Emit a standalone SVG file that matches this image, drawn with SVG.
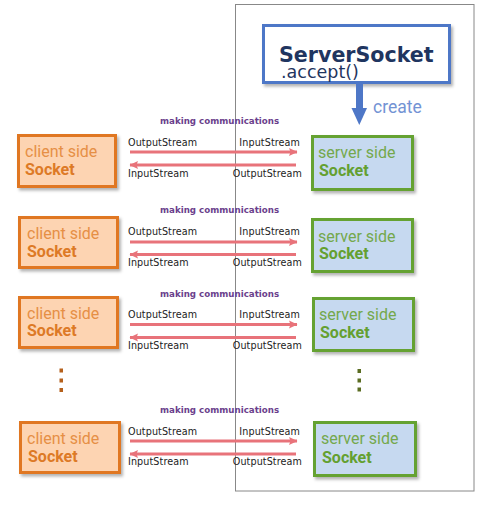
<svg xmlns="http://www.w3.org/2000/svg" width="490" height="512" viewBox="0 0 490 512">
<defs>
<filter id="sh" x="-10%" y="-10%" width="130%" height="130%">
<feDropShadow dx="2" dy="2.5" stdDeviation="1.5" flood-color="#000" flood-opacity="0.3"/>
</filter>
<marker id="ah" markerUnits="userSpaceOnUse" markerWidth="9" markerHeight="9" refX="8" refY="4.5" orient="auto-start-reverse">
<path d="M0,0.5 L8.5,4.5 L0,8.5 L1.5,4.5 z" fill="#e8737a"/>
</marker>
<style>
.client rect{fill:#fdd4b2;stroke:#e07722;stroke-width:3;filter:url(#sh)}
.server rect{fill:#c6d9f0;stroke:#65a232;stroke-width:3;filter:url(#sh)}
.ct1{font-family:Roboto,"Liberation Sans",sans-serif;font-size:16px;fill:#e68f45}
.ct2{font-family:Roboto,"Liberation Sans",sans-serif;font-size:16px;font-weight:bold;fill:#dd7a26}
.st1{font-family:Roboto,"Liberation Sans",sans-serif;font-size:16px;fill:#74a84c}
.st2{font-family:Roboto,"Liberation Sans",sans-serif;font-size:16px;font-weight:bold;fill:#64a030}
.lbl{font-family:"DejaVu Sans",Verdana,sans-serif;font-size:9.6px;fill:#222;letter-spacing:0.1px}
.mc{font-family:"DejaVu Sans",Verdana,sans-serif;font-size:8.7px;font-weight:bold;fill:#6b3f8c}
.conn line{stroke:#e8737a;stroke-width:3}
</style>
</defs>
<rect x="235.5" y="4.5" width="238.5" height="486.5" fill="none" stroke="#888" stroke-width="1"/>

<g id="serversocket">
<rect x="263.5" y="25.5" width="186" height="57" fill="#fff" stroke="#4e77c7" stroke-width="3" filter="url(#sh)"/>
<text x="279" y="62" font-family="'DejaVu Sans',Verdana,sans-serif" font-size="20.6px" font-weight="bold" fill="#1f3560">ServerSocket</text>
<text x="281" y="78" font-family="'DejaVu Sans',Verdana,sans-serif" font-size="17.5px" fill="#1f3560">.accept()</text>
</g>

<g id="create-arrow">
<rect x="356" y="83" width="7" height="26" fill="#4e77c7"/>
<polygon points="351.5,108 367,108 359.3,125" fill="#4e77c7"/>
<text x="373" y="113" font-family="Roboto,'Liberation Sans',sans-serif" font-size="17.5px" fill="#7393d4">create</text>
</g>

<!-- Row 1 -->
<g id="client1" class="client"><rect x="18.5" y="135.5" width="97" height="51"/>
<text class="ct1" x="25" y="157">client side</text><text class="ct2" x="25" y="175">Socket</text></g>
<g id="server1" class="server"><rect x="312.5" y="136.5" width="100" height="53"/>
<text class="st1" x="318" y="158">server side</text><text class="st2" x="319" y="176">Socket</text></g>

<!-- Row 2 -->
<g id="client2" class="client"><rect x="19.5" y="217.5" width="98" height="50"/>
<text class="ct1" x="27" y="239">client side</text><text class="ct2" x="27" y="257">Socket</text></g>
<g id="server2" class="server"><rect x="312.5" y="219.5" width="100" height="52"/>
<text class="st1" x="318" y="242">server side</text><text class="st2" x="319" y="259">Socket</text></g>

<!-- Row 3 -->
<g id="client3" class="client"><rect x="19.5" y="297.5" width="98" height="50"/>
<text class="ct1" x="27" y="319">client side</text><text class="ct2" x="27" y="336">Socket</text></g>
<g id="server3" class="server"><rect x="313.5" y="298.5" width="100" height="52"/>
<text class="st1" x="319" y="320">server side</text><text class="st2" x="320" y="338">Socket</text></g>

<!-- Row 4 -->
<g id="client4" class="client"><rect x="20.5" y="422.5" width="99" height="50"/>
<text class="ct1" x="27" y="444">client side</text><text class="ct2" x="28" y="462">Socket</text></g>
<g id="server4" class="server"><rect x="314.5" y="422.5" width="101" height="53"/>
<text class="st1" x="321" y="444">server side</text><text class="st2" x="322" y="463">Socket</text></g>

<g id="dots">
<rect x="59.5" y="368.5" width="3.5" height="4" fill="#b5611c"/>
<rect x="59.5" y="378.5" width="3.5" height="4" fill="#b5611c"/>
<rect x="59.5" y="388" width="3.5" height="4" fill="#b5611c"/>
<rect x="357.5" y="369" width="3.5" height="4" fill="#5b6d22"/>
<rect x="357.5" y="378.5" width="3.5" height="4" fill="#5b6d22"/>
<rect x="357.5" y="387.5" width="3.5" height="4" fill="#5b6d22"/>
</g>

<g id="connectors" class="conn">
<line x1="130" y1="152" x2="297" y2="152" marker-end="url(#ah)"/>
<line x1="296" y1="165" x2="130" y2="165" marker-end="url(#ah)"/>
<line x1="130" y1="242" x2="297" y2="242" marker-end="url(#ah)"/>
<line x1="296" y1="254.5" x2="130" y2="254.5" marker-end="url(#ah)"/>
<line x1="130" y1="324.5" x2="297" y2="324.5" marker-end="url(#ah)"/>
<line x1="296" y1="337.5" x2="130" y2="337.5" marker-end="url(#ah)"/>
<line x1="130" y1="441" x2="297" y2="441" marker-end="url(#ah)"/>
<line x1="296" y1="454" x2="130" y2="454" marker-end="url(#ah)"/>
</g>

<g id="labels">
<text class="mc" x="160" y="124">making communications</text>
<text class="lbl" x="128" y="146">OutputStream</text>
<text class="lbl" x="300" y="146" text-anchor="end">InputStream</text>
<text class="lbl" x="128" y="177">InputStream</text>
<text class="lbl" x="302" y="177" text-anchor="end">OutputStream</text>

<text class="mc" x="160" y="213">making communications</text>
<text class="lbl" x="128" y="235">OutputStream</text>
<text class="lbl" x="300" y="235" text-anchor="end">InputStream</text>
<text class="lbl" x="128" y="266">InputStream</text>
<text class="lbl" x="302" y="266" text-anchor="end">OutputStream</text>

<text class="mc" x="160" y="297">making communications</text>
<text class="lbl" x="128" y="318">OutputStream</text>
<text class="lbl" x="300" y="318" text-anchor="end">InputStream</text>
<text class="lbl" x="128" y="349">InputStream</text>
<text class="lbl" x="302" y="349" text-anchor="end">OutputStream</text>

<text class="mc" x="160" y="413">making communications</text>
<text class="lbl" x="128" y="435">OutputStream</text>
<text class="lbl" x="300" y="435" text-anchor="end">InputStream</text>
<text class="lbl" x="128" y="465">InputStream</text>
<text class="lbl" x="302" y="465" text-anchor="end">OutputStream</text>
</g>
</svg>
